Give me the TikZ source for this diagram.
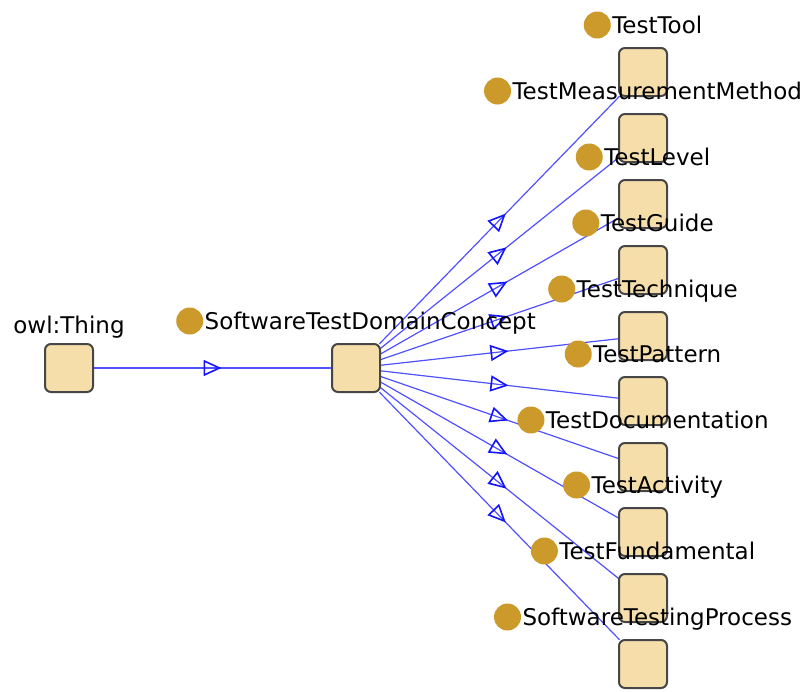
\documentclass[tikz,border=0pt]{standalone}
\usepackage{fontspec}
\setmainfont{DejaVu Sans}
\usetikzlibrary{arrows.meta,decorations.markings}

\definecolor{boxfill}{RGB}{245,222,170}
\definecolor{boxborder}{RGB}{70,70,70}
\definecolor{dotgold}{RGB}{204,154,42}
\definecolor{edgeblue}{RGB}{80,80,255}
\definecolor{tipblue}{RGB}{20,20,255}

\newcommand{\classdot}{\tikz[baseline=-8.4pt]\fill[dotgold] (0,0) circle (13.5pt);\hspace{1.5pt}}

\begin{document}
\begin{tikzpicture}
[x=1pt,y=-1pt,
  classDecorate/.style={shape=rectangle,rounded corners=6pt,minimum size=48pt,inner sep=0pt,draw=boxborder,fill=boxfill,line width=2pt},%
  labelDecorate/.style={anchor=base,inner sep=0pt,font=\fontsize{23}{26}\selectfont},%
  arrowDecorate/.style={draw=edgeblue,line width=1.2pt,postaction={decorate},
    decoration={markings,mark=at position 0.5 with {\arrow[xshift=9pt,tipblue]{Triangle[open,length=18pt,width=16pt,line width=1.6pt]}}}}]
\useasboundingbox (0,0) rectangle (806,691);
%% coordinates of the classes
\coordinate (thingpos) at (69,368);
\coordinate (domainpos) at (356,368);
\foreach \nodename/\y in {tool/72, measure/138, level/204, guide/270, technique/336,
  pattern/401, documentation/467, activity/532, fundamental/598, process/664}
{
  \coordinate (\nodename pos) at (643,\y);
}
%% edges or lines
\foreach \nodename in {thing, domain, tool, measure, level, guide, technique,
  pattern, documentation, activity, fundamental, process}
{
  \path (\nodename pos) node[minimum size=48pt,inner sep=0pt] (\nodename) {};
}
\path (thing) edge[arrowDecorate] (domain);
\path
\foreach \endnode in {tool, measure, level, guide, technique, pattern,
  documentation, activity, fundamental, process}
{
  (domain) edge[arrowDecorate] (\endnode)
};
%% class boxes
\foreach \nodename in {thing, domain, tool, measure, level, guide, technique,
  pattern, documentation, activity, fundamental, process}
{
  \node[classDecorate] (\nodename box) at (\nodename pos) {};
}
%% labels
\node[labelDecorate] (thinglabel) at (69,333) {owl:Thing};
\node[labelDecorate] (domainlabel) at (356,329.4) {\classdot SoftwareTestDomainConcept};
\foreach \nodename/\y/\caption in {tool/72/TestTool, measure/138/TestMeasurementMethod,
  level/204/TestLevel, guide/270/TestGuide, technique/336/TestTechnique,
  pattern/401/TestPattern, documentation/467/TestDocumentation,
  activity/532/TestActivity, fundamental/598/TestFundamental,
  process/664/SoftwareTestingProcess}
{
  \node[labelDecorate] (\nodename label) at (643,\y-38.6) {\classdot \caption};
}
\end{tikzpicture}
\end{document}
